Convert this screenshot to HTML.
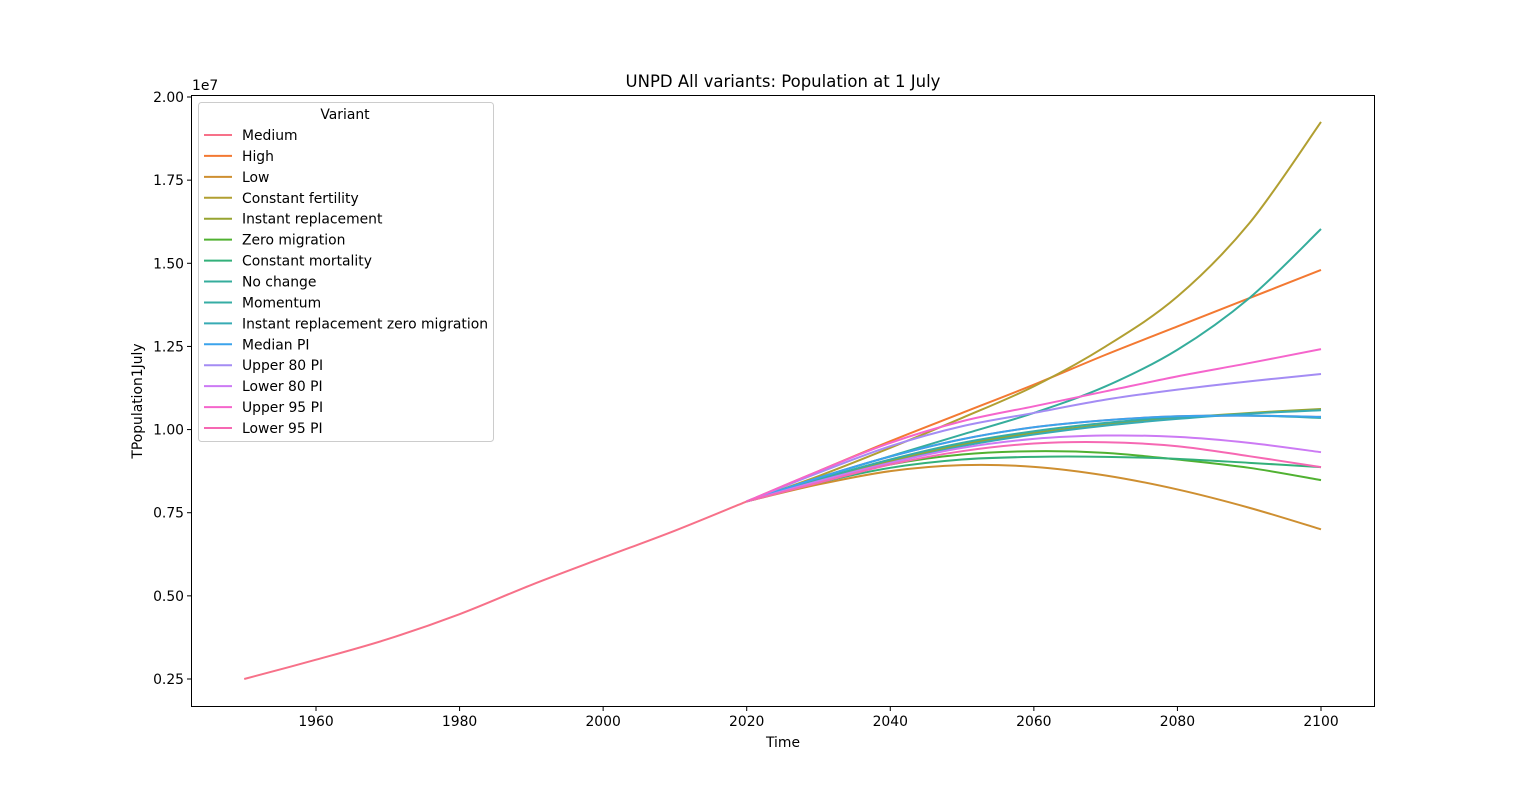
<!DOCTYPE html>
<html><head><meta charset="utf-8"><style>
body{margin:0;background:#fff;font-family:"Liberation Sans","DejaVu Sans",sans-serif;}
svg text{font-family:"DejaVu Sans","Liberation Sans",sans-serif;font-size:13.9px;fill:#000;}
</style></head><body>
<svg id="chart" width="1528" height="794" xmlns="http://www.w3.org/2000/svg">
<rect width="1528" height="794" fill="#fff"/>
<g id="lines"></g>
<rect x="191.5" y="95.5" width="1183" height="611" fill="none" stroke="#000" stroke-width="1"/>
<g id="xt"></g><g id="yt"></g>
<text x="192" y="90">1e7</text>
<text x="783" y="87" text-anchor="middle" style="font-size:16.5px">UNPD All variants: Population at 1 July</text>
<text x="783" y="747" text-anchor="middle">Time</text>
<text transform="translate(142,401) rotate(-90)" text-anchor="middle">TPopulation1July</text>
<g id="legend">
<rect x="198.5" y="102.5" width="295" height="339" rx="3" fill="#fff" fill-opacity="0.8" stroke="#ccc"/>
<text x="345" y="119" text-anchor="middle">Variant</text>
</g>
</svg>
<script>
const names=["Medium","High","Low","Constant fertility","Instant replacement","Zero migration","Constant mortality","No change","Momentum","Instant replacement zero migration","Median PI","Upper 80 PI","Lower 80 PI","Upper 95 PI","Lower 95 PI"];
const colors=["#f77189","#f37932","#ce8f31","#b19f31","#97a431","#50b131","#33b07a","#35ad9c","#36ada4","#37abb4","#3ba3ec","#a48cf4","#cc7af4","#f565cc","#f668b3"];
const histYears=[1950,1960,1970,1980,1990,2000,2010,2020];
const histValues=[2.5,3.08,3.7,4.45,5.33,6.15,6.96,7.84];
const projYears=[2020,2030,2040,2050,2060,2070,2080,2090,2100];
const medium=[7.84,8.55,9.19,9.71,10.07,10.28,10.40,10.42,10.38];
const high=[7.84,8.75,9.65,10.5,11.35,12.25,13.1,13.95,14.8];
const low=[7.84,8.35,8.75,8.93,8.88,8.62,8.2,7.65,7.0];
const constFert=[7.84,8.6,9.45,10.35,11.3,12.5,14.0,16.2,19.25];
const instRepl=[7.84,8.5,9.05,9.55,9.9,10.15,10.35,10.5,10.62];
const zeroMig=[7.84,8.45,8.95,9.25,9.35,9.3,9.1,8.85,8.48];
const constMort=[7.84,8.4,8.85,9.1,9.18,9.18,9.12,9.0,8.87];
const noChange=[7.84,8.55,9.2,9.85,10.5,11.3,12.4,13.95,16.03];
const momentum=[7.84,8.5,9.1,9.6,9.95,10.2,10.38,10.42,10.35];
const irzm=[7.84,8.45,9.0,9.5,9.85,10.12,10.32,10.48,10.58];
const medianPI=medium;
const upper80=[7.84,8.7,9.5,10.1,10.5,10.9,11.2,11.45,11.67];
const lower80=[7.84,8.45,9.0,9.45,9.72,9.82,9.78,9.6,9.32];
const upper95=[7.84,8.75,9.6,10.25,10.7,11.15,11.6,12.0,12.42];
const lower95=[7.84,8.4,8.95,9.35,9.58,9.62,9.5,9.2,8.87];
const xTicks=[1960,1980,2000,2020,2040,2060,2080,2100];
const yTicks=[0.25,0.5,0.75,1.0,1.25,1.5,1.75,2.0];
const yTickLabels=["0.25","0.50","0.75","1.00","1.25","1.50","1.75","2.00"];
const series=[medium,high,low,constFert,instRepl,zeroMig,constMort,noChange,momentum,irzm,medianPI,upper80,lower80,upper95,lower95];
const X=y=>316+(y-1960)*(1321-316)/140;
const Y=v=>679-(v/10-0.25)*(679-97)/1.75;
const NS="http://www.w3.org/2000/svg";
function mk(t,a,p){const e=document.createElementNS(NS,t);for(const k in a)e.setAttribute(k,a[k]);p.appendChild(e);return e;}
function path(pts){let d="M"+pts[0][0]+","+pts[0][1];for(let i=0;i<pts.length-1;i++){const p0=pts[Math.max(0,i-1)],p1=pts[i],p2=pts[i+1],p3=pts[Math.min(pts.length-1,i+2)];
d+=" C"+(p1[0]+(p2[0]-p0[0])/6)+","+(p1[1]+(p2[1]-p0[1])/6)+" "+(p2[0]-(p3[0]-p1[0])/6)+","+(p2[1]-(p3[1]-p1[1])/6)+" "+p2[0]+","+p2[1];}return d;}
const lg=document.getElementById("lines");
const hp=mk("path",{d:path(histYears.map((y,i)=>[X(y),Y(histValues[i])])),fill:"none",stroke:colors[0],"stroke-width":2},lg);


for(let s=0;s<series.length;s++){
 const pts=projYears.map((y,i)=>[X(y),Y(series[s][i])]);
 const p=mk("path",{d:path(pts),fill:"none",stroke:colors[s],"stroke-width":2},lg);
 
 
}
const xt=document.getElementById("xt");
xTicks.forEach(t=>{const x=X(t);mk("line",{x1:x,x2:x,y1:707,y2:711,stroke:"#000"},xt);
 const tx=mk("text",{x:x,y:726,"text-anchor":"middle"},xt);tx.textContent=t;
 
 });
const yt=document.getElementById("yt");
yTicks.forEach((t,i)=>{const y=Y(t*10);mk("line",{x1:187,x2:191,y1:y,y2:y,stroke:"#000"},yt);
 const tx=mk("text",{x:184,y:y+5,"text-anchor":"end"},yt);tx.textContent=yTickLabels[i];
 
 });
const lgd=document.getElementById("legend");
names.forEach((n,i)=>{const y=135+20.93*i;
 const g=mk("g",{},lgd);
 
 
 mk("line",{x1:204,x2:232,y1:y,y2:y,stroke:colors[i],"stroke-width":2},g);
 const t=mk("text",{x:242,y:y+5},g);t.textContent=n;});
</script>
</body></html>
